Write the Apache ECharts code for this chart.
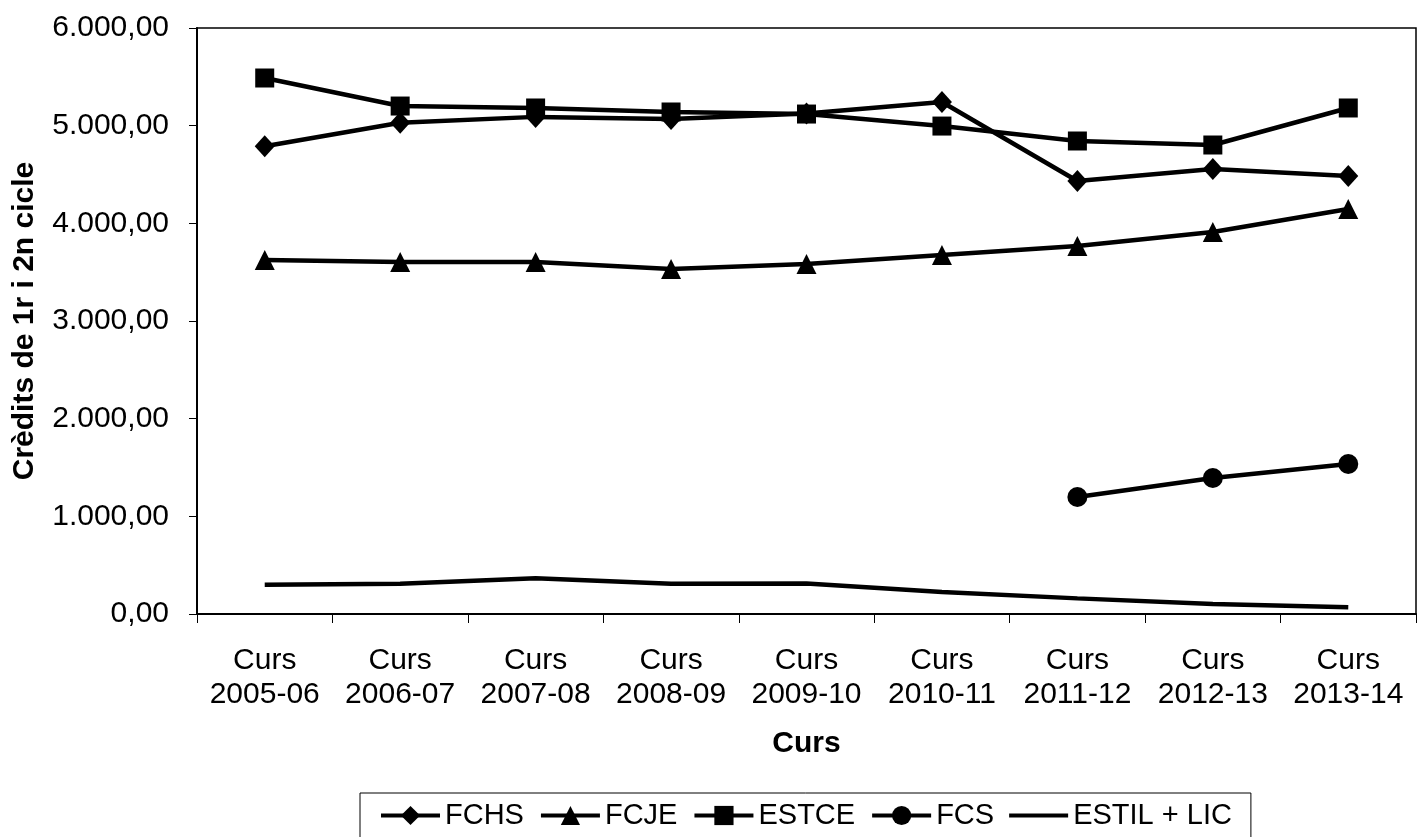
<!DOCTYPE html>
<html><head><meta charset="utf-8">
<script src="https://cdn.jsdelivr.net/npm/echarts@6/dist/echarts.min.js"></script>
<style>html,body{margin:0;padding:0;background:#fff}#c{width:1428px;height:837px}</style>
</head><body><div id="c"></div>
<script>
var categories = ['Curs\n2005-06','Curs\n2006-07','Curs\n2007-08','Curs\n2008-09','Curs\n2009-10','Curs\n2010-11','Curs\n2011-12','Curs\n2012-13','Curs\n2013-14'];
var FCHS = [4790, 5030, 5090, 5068, 5125, 5242, 4433, 4556, 4484];
var FCJE = [3624, 3604, 3604, 3532, 3584, 3676, 3768, 3911, 4147];
var ESTCE = [5488, 5201, 5181, 5140, 5119, 4996, 4843, 4802, 5181];
var FCS = [null, null, null, null, null, null, 1198, 1392, 1536];
var ESTIL = [300, 310, 365, 310, 312, 225, 160, 102, 70];
var yTicks = [0, 1000, 2000, 3000, 4000, 5000, 6000];

function fmt(v){
  var s = Math.round(v).toString().replace(/\B(?=(\d{3})+(?!\d))/g, '.');
  return s + ',00';
}
var font = 'Liberation Sans, Arial, sans-serif';
var chart = echarts.init(document.getElementById('c'));
function ser(name, data, symbol, size){
  return {name:name, type:'line', data:data, symbol:symbol, symbolSize:size,
    showSymbol: symbol!=='none',
    lineStyle:{color:'#000', width:4.5}, itemStyle:{color:'#000'},
    connectNulls:false, animation:false, z: 3};
}
chart.setOption({
  animation:false,
  backgroundColor:'#fff',
  grid:{left:197, top:28, right:12, bottom:223, show:true, borderColor:'#000', borderWidth:1.5, backgroundColor:'#fff'},
  legend:{
    top:793, left:360,
    data:['FCHS','FCJE','ESTCE','FCS',{name:'ESTIL + LIC', icon:'path://M0,0L59,0L59,4L0,4Z'}],
    itemWidth:59, itemHeight:24, itemGap:15,
    lineStyle:{width:4, color:'#000'},
    textStyle:{fontFamily:font, fontSize:29, color:'#000'},
    borderColor:'#000', borderWidth:1, padding:[8,19,16,19]
  },
  xAxis:{
    type:'category', data:categories, boundaryGap:true,
    axisLine:{lineStyle:{color:'#000', width:2}},
    axisTick:{show:true, length:9, lineStyle:{color:'#000'}},
    axisLabel:{fontFamily:font, fontSize:30, color:'#000', lineHeight:34, margin:30, interval:0},
    name:'Curs', nameLocation:'middle', nameGap:115,
    nameTextStyle:{fontFamily:font, fontSize:30, fontWeight:'bold', color:'#000'}
  },
  yAxis:{
    type:'value', min:yTicks[0], max:yTicks[yTicks.length-1], interval:1000,
    axisLine:{show:true, lineStyle:{color:'#000', width:2}},
    axisTick:{show:true, length:8, lineStyle:{color:'#000'}},
    splitLine:{show:false},
    axisLabel:{fontFamily:font, fontSize:30, color:'#000', margin:28, formatter:fmt},
    name:'Crèdits de 1r i 2n cicle', nameLocation:'middle', nameGap:157,
    nameTextStyle:{fontFamily:font, fontSize:30, fontWeight:'bold', color:'#000'}
  },
  series:[
    ser('FCHS', FCHS, 'diamond', [20,22]),
    ser('FCJE', FCJE, 'triangle', 20),
    ser('ESTCE', ESTCE, 'rect', 19),
    ser('FCS', FCS, 'circle', 20),
    ser('ESTIL + LIC', ESTIL, 'none', 0)
  ]
});
</script></body></html>
